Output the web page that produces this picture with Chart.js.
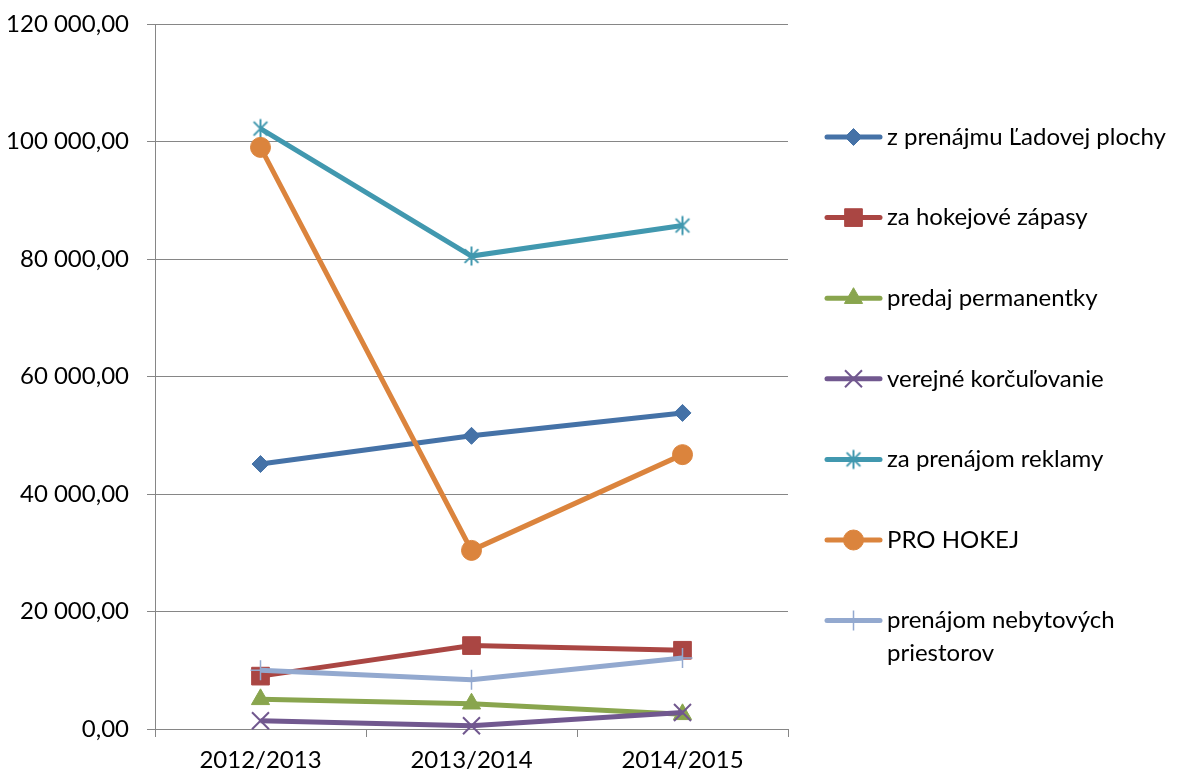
<!DOCTYPE html>
<html>
<head>
<meta charset="utf-8">
<script src="https://cdn.jsdelivr.net/npm/chart.js@4/dist/chart.umd.min.js"></script>
<style>
html,body{margin:0;padding:0;background:#fff;}
#wrap{width:1179px;height:776px;position:relative;}
</style>
</head>
<body>
<div id="wrap"><canvas id="c" width="1179" height="776"></canvas></div>
<script>
const categories = ["2012/2013", "2013/2014", "2014/2015"];
const seriesNames = [
  "z prenájmu Ľadovej plochy",
  "za hokejové zápasy",
  "predaj permanentky",
  "verejné korčuľovanie",
  "za prenájom reklamy",
  "PRO HOKEJ",
  "prenájom nebytových priestorov"
];
const ladovaPlocha = [45100, 49900, 53800];
const hokejoveZapasy = [9000, 14200, 13400];
const permanentky = [5050, 4300, 2500];
const korculovanie = [1400, 550, 2800];
const reklama = [102200, 80500, 85700];
const proHokej = [99000, 30400, 46700];
const nebytove = [10000, 8400, 12100];
const yTicks = [0, 20000, 40000, 60000, 80000, 100000, 120000];

const seriesValues = [ladovaPlocha, hokejoveZapasy, permanentky, korculovanie, reklama, proHokej, nebytove];
const colors = ["#4572A7", "#AA4643", "#89A54E", "#71588F", "#4198AF", "#DB843D", "#93A9CF"];

function asterisk(color){
  const s = 24, c = document.createElement("canvas");
  c.width = s; c.height = s;
  const g = c.getContext("2d");
  g.strokeStyle = color; g.lineWidth = 2; g.lineCap = "butt";
  const m = s / 2, r = 9.5, d = r * 0.72;
  g.beginPath();
  g.moveTo(m - d, m - d); g.lineTo(m + d, m + d);
  g.moveTo(m + d, m - d); g.lineTo(m - d, m + d);
  g.moveTo(m, m - r); g.lineTo(m, m + r);
  g.stroke();
  return c;
}

const styles = [
  {pointStyle:"rectRot", radius:8.5, bw:1},
  {pointStyle:"rect", radius:12.5, bw:1},
  {pointStyle:"triangle", radius:10.5, bw:1},
  {pointStyle:"crossRot", radius:12, bw:2},
  {pointStyle:asterisk("#4198AF"), radius:10, bw:2},
  {pointStyle:"circle", radius:10, bw:1},
  {pointStyle:"cross", radius:10, bw:1.5}
];

const FONT = "Lato, 'Open Sans', sans-serif";
const FSIZE = 24;

function fmt(v){
  const s = Math.round(v).toString().replace(/\B(?=(\d{3})+(?!\d))/g, " ");
  return s + ",00";
}

const datasets = seriesNames.map((name, i) => ({
  label: name,
  data: seriesValues[i],
  borderColor: colors[i],
  backgroundColor: colors[i],
  pointBackgroundColor: colors[i],
  pointBorderColor: colors[i],
  borderWidth: 5,
  pointStyle: styles[i].pointStyle,
  pointRadius: styles[i].radius,
  pointBorderWidth: styles[i].bw,
  pointHoverRadius: styles[i].radius,
  tension: 0,
  fill: false,
  clip: false,
  order: seriesNames.length - i
}));

const legendPlugin = {
  id: "customLegend",
  afterDraw(chart){
    const ctx = chart.ctx;
    ctx.save();
    const lineX0 = 827, lineX1 = 880, textX = 887;
    const rowY0 = 137, rowStep = 80.6, lineH = 33, maxW = 1179 - textX - 2;
    ctx.font = FSIZE + "px " + FONT;
    ctx.textBaseline = "middle";
    ctx.textAlign = "left";
    chart.data.datasets.forEach((ds, i) => {
      const y = rowY0 + i * rowStep;
      ctx.strokeStyle = ds.borderColor;
      ctx.lineWidth = 5;
      ctx.lineCap = "round";
      ctx.beginPath();
      ctx.moveTo(lineX0, y);
      ctx.lineTo(lineX1, y);
      ctx.stroke();
      ctx.lineCap = "butt";
      const opts = {pointStyle: ds.pointStyle, radius: ds.pointRadius, borderWidth: ds.pointBorderWidth, rotation: 0};
      ctx.fillStyle = ds.pointBackgroundColor;
      ctx.strokeStyle = ds.pointBorderColor;
      ctx.lineWidth = ds.pointBorderWidth;
      if (Chart.helpers && Chart.helpers.drawPoint) {
        Chart.helpers.drawPoint(ctx, opts, (lineX0 + lineX1) / 2, y);
      }
      ctx.fillStyle = "#000";
      const words = ds.label.split(" ");
      const lines = [];
      let cur = "";
      words.forEach(w => {
        const t = cur ? cur + " " + w : w;
        if (ctx.measureText(t).width > maxW && cur) { lines.push(cur); cur = w; } else { cur = t; }
      });
      if (cur) lines.push(cur);
      lines.forEach((ln, k) => ctx.fillText(ln, textX, y + k * lineH));
    });
    ctx.restore();
  }
};

new Chart(document.getElementById("c"), {
  type: "line",
  data: { labels: categories, datasets: datasets },
  options: {
    responsive: false,
    animation: false,
    devicePixelRatio: 1,
    layout: { autoPadding: false, padding: { top: 24, right: 391, left: 0, bottom: 0 } },
    plugins: { legend: { display: false }, tooltip: { enabled: false } },
    scales: {
      x: {
        offset: true,
        grid: { offset: true, drawOnChartArea: false, drawTicks: true, tickLength: 8, color: "#868686", lineWidth: 1 },
        border: { display: true, color: "#868686", width: 1 },
        ticks: { color: "#000", font: { family: FONT, size: FSIZE }, padding: 9, maxRotation: 0 },
        afterFit(scale){ scale.height = 47; }
      },
      y: {
        min: 0, max: 120000,
        afterBuildTicks(scale){ scale.ticks = yTicks.map(v => ({value: v})); },
        grid: { color: "#868686", lineWidth: 1, drawTicks: true, tickLength: 8 },
        border: { display: true, color: "#868686", width: 1 },
        ticks: { color: "#000", font: { family: FONT, size: FSIZE }, padding: 18, callback: v => fmt(v) },
        afterFit(scale){ scale.width = 155; scale.paddingTop = 10; scale.paddingBottom = 10; }
      }
    }
  },
  plugins: [legendPlugin]
});
</script>
</body>
</html>
